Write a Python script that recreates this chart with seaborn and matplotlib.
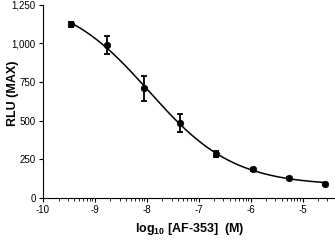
import numpy as np
import pandas as pd
import matplotlib
matplotlib.use("Agg")
import matplotlib.pyplot as plt
import seaborn as sns
from matplotlib.ticker import FixedLocator, FuncFormatter

# ---- data ----
log_conc = [-9.46, -8.76, -8.06, -7.36, -6.66, -5.96, -5.26, -4.56]
rlu = [1123, 989, 709, 483, 286, 185, 131, 92]
rlu_err = [15, 56, 79, 58, 21, 8, 6, 6]
x_ticks = [-10, -9, -8, -7, -6, -5]
y_ticks = [0, 250, 500, 750, 1000, 1250]

sns.set_style("ticks")
plt.rcParams["font.family"] = ["Liberation Sans", "DejaVu Sans"]
plt.rcParams["mathtext.fontset"] = "custom"
plt.rcParams["mathtext.rm"] = "Liberation Sans"
plt.rcParams["mathtext.bf"] = "Liberation Sans:bold"
plt.rcParams["text.color"] = "black"
plt.rcParams["xtick.color"] = "black"
plt.rcParams["ytick.color"] = "black"

df = pd.DataFrame({"x": log_conc, "y": rlu, "err": rlu_err})

# 4-parameter logistic fit (grid search + linear least squares)
x = np.array(log_conc, float)
y = np.array(rlu, float)
best = None
for ic in np.arange(-9.0, -6.0, 0.01):
    for h in np.arange(0.3, 1.5, 0.01):
        s = 1.0 / (1.0 + 10 ** ((x - ic) * h))
        A = np.column_stack([np.ones_like(s), s])
        coef, *_ = np.linalg.lstsq(A, y, rcond=None)
        r = np.sum((A @ coef - y) ** 2)
        if best is None or r < best[0]:
            best = (r, ic, h, coef)
_, ic, h, coef = best
xf = np.linspace(x.min(), x.max(), 200)
yf = coef[0] + coef[1] / (1.0 + 10 ** ((xf - ic) * h))
fit = pd.DataFrame({"x": xf, "y": yf})

fig = plt.figure(figsize=(3.35, 2.41), dpi=100)
ax = fig.add_axes([0.128, 0.178, 0.868, 0.803])

sns.lineplot(data=fit, x="x", y="y", ax=ax, color="black", lw=1.1)
ax.errorbar(df["x"], df["y"], yerr=df["err"], fmt="none", ecolor="black",
            elinewidth=1.3, capsize=2.2, capthick=1.3)
sns.scatterplot(data=df, x="x", y="y", ax=ax, color="black", s=22,
                edgecolor="black", linewidth=0.5, zorder=5)

ax.set_xlim(-10, -4.4)
ax.set_ylim(0, 1250)
ax.xaxis.set_major_locator(FixedLocator(x_ticks))
minor = [d + np.log10(k) for d in range(-10, -4) for k in range(2, 10)]
ax.xaxis.set_minor_locator(FixedLocator([m for m in minor if m < -4.4]))
ax.yaxis.set_major_locator(FixedLocator(y_ticks))
ax.yaxis.set_major_formatter(FuncFormatter(lambda v, p: f"{int(v):,}"))
ax.xaxis.set_major_formatter(FuncFormatter(lambda v, p: f"{int(v)}"))

ax.tick_params(axis="both", which="major", direction="out", length=3,
               width=0.8, labelsize=7, pad=2)
ax.tick_params(axis="x", which="minor", direction="out", length=2, width=0.6)
for lab in ax.get_xticklabels() + ax.get_yticklabels():
    lab.set_family(["Liberation Sans Narrow", "Liberation Sans"])
for sp in ["top", "right"]:
    ax.spines[sp].set_visible(False)
for sp in ["left", "bottom"]:
    ax.spines[sp].set_linewidth(0.8)
    ax.spines[sp].set_color("black")

ax.set_xlabel("")
ax.set_ylabel("")
fig.text(13 / 335, 1 - 93 / 241, "RLU (MAX)", rotation=90, fontsize=9,
         fontweight="bold", ha="center", va="center")
fig.text(190 / 335, 1 - 229 / 241, r"$\mathbf{log_{10}}$ [AF-353]  (M)",
         fontsize=9, fontweight="bold", ha="center", va="center")

fig.savefig("out.png", dpi=100)
